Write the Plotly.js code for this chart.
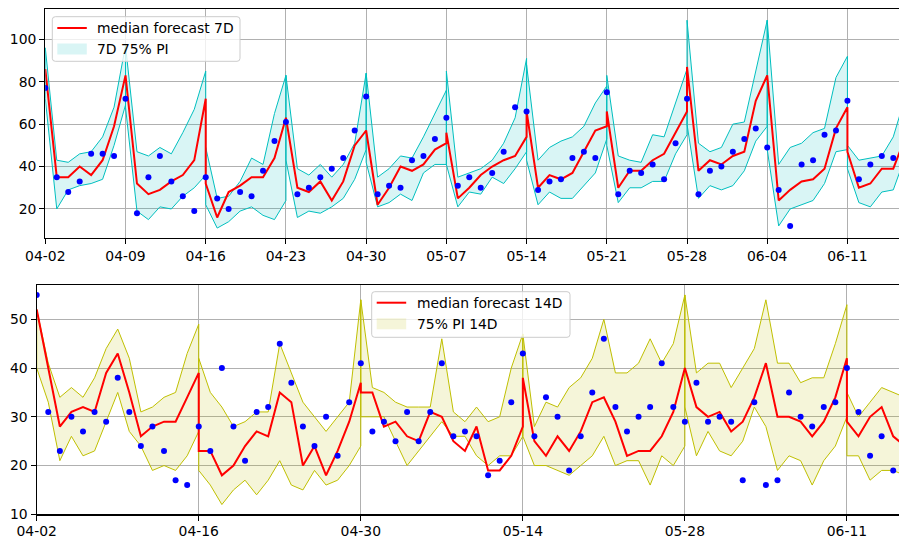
<!DOCTYPE html>
<html>
<head>
<meta charset="utf-8">
<script src="https://cdn.plot.ly/plotly-3.0.1.min.js"></script>
<style>html,body{margin:0;padding:0;background:#fff;}#chart{width:899px;height:538px;}</style>
</head>
<body>
<div id="chart"></div>
<script>
// ---------- data ----------
const startYear = 2021, startMonth = 3, startDay = 2;   // 04-02

// observed values (daily, from 04-02)
const actual7 = [77,35,28,33,46,46,45,72,18,35,45,33,26,19,35,25,20,28,26,38,52,61,27,30,35,39,44,57,73,27,31,30,43,45,53,63,31,35,30,37,47,68,66,29,33,34,44,47,44,75,27,38,37,41,34,51,72,27,38,40,47,53,58,49,29,12,41,43,55,57,71,34,41,45,44];
const actual14 = [55,31,23,30,27,31,29,38,31,24,28,23,17,16,28,23,40,28,21,31,32,45,37,28,24,30,22,33,41,27,29,25,31,25,31,41,26,27,26,18,21,33,43,26,34,30,19,26,35,46,32,27,30,32,41,32,29,37,29,30,29,17,33,16,17,35,30,28,32,33,40,31,22,26,19];

// 7-day forecasts: one segment per week (start day offsets)
const segStart7 = [0,7,14,21,28,35,42,49,56,63,70];
const med7 = [
 [86,35,35,40,36,43,59,83],
 [83,32,27,29,33,36,43,72],
 [32,16,28,31,35,35,44,63],
 [63,30,28,33,24,33,50,57],
 [57,22,30,40,38,41,48,51],
 [56,25,30,36,40,43,45,54],
 [66,30,36,34,37,47,57,59],
 [66,30,38,38,43,46,56,66],
 [87,38,43,41,45,47,71,83],
 [83,24,29,33,34,39,58,68],
 [47,30,32,39,39,53]
];
const lo7 = [
 [72,20,29,31,32,34,50,69],
 [68,19,15,21,20,26,30,36],
 [22,11,14,19,21,17,15,24],
 [43,16,19,18,21,25,34,48],
 [42,21,23,27,24,37,41,41],
 [41,21,28,27,35,32,39,47],
 [43,22,28,25,25,31,37,53],
 [50,23,30,30,33,33,46,55],
 [60,25,31,29,31,38,52,59],
 [48,12,20,22,24,32,47,48],
 [39,23,21,28,29,44]
];
const up7 = [
 [96,43,42,46,47,54,68,97],
 [97,47,45,49,46,56,67,85],
 [49,25,26,33,44,41,65,83],
 [83,39,36,41,35,41,51,84],
 [84,35,39,45,44,54,65,76],
 [85,35,37,39,43,51,63,91],
 [88,43,49,52,54,59,70,78],
 [83,45,43,42,55,54,70,86],
 [109,51,47,49,60,61,85,109],
 [109,41,49,51,56,58,82,92],
 [50,43,44,45,54,72]
];

// 14-day forecasts: one segment per two weeks
const segStart14 = [0,14,28,42,56,70];
const med14 = [
 [52,40,28,31,32,31,39,43,35,26,28,29,29,34,39],
 [23,23,18,20,24,27,26,35,33,20,24,18,23,29,37],
 [35,35,28,29,26,25,31,30,25,23,28,19,19,22,28],
 [38,25,22,26,23,27,33,34,29,22,23,23,26,31,40],
 [40,32,30,31,27,29,34,41,30,30,29,26,29,34,42],
 [29,26,30,32,26,24]
];
const up14 = [
 [52,41,34,36,34,38,44,48,42,31,32,34,35,43,49],
 [42,35,32,28,29,31,31,45,39,33,30,27,30,33,54],
 [54,36,35,33,32,32,32,46,31,29,32,29,30,40,47],
 [47,28,33,32,36,38,42,50,39,39,41,46,41,45,55],
 [55,39,41,41,36,40,44,54,41,41,37,38,38,45,53],
 [35,30,33,36,35,34]
];
const lo14 = [
 [40,33,21,26,22,23,29,35,27,24,19,20,19,22,27],
 [19,16,12,15,17,14,17,21,16,15,19,16,17,20,24],
 [30,30,30,25,20,23,26,29,26,26,22,20,22,22,26],
 [26,20,20,19,18,20,22,26,20,21,21,16,22,20,24],
 [32,22,27,23,22,25,32,28,19,22,21,16,21,24,30],
 [22,22,17,19,19,18]
];

const labels = {
  med7: 'median forecast 7D', pi7: '7D 75% PI',
  med14: 'median forecast 14D', pi14: '75% PI 14D'
};

// ---------- helpers ----------
function dateOf(d) {
  const t = new Date(Date.UTC(startYear, startMonth, startDay) + d * 86400000);
  return t.toISOString().replace('T', ' ').slice(0, 19);
}
function concatLine(starts, segs) {
  const x = [], y = [];
  segs.forEach((s, k) => s.forEach((v, i) => { x.push(dateOf(starts[k] + i)); y.push(v); }));
  return {x, y};
}
function bandPolys(starts, lo, up) {
  const x = [], y = [];
  lo.forEach((s, k) => {
    const n = s.length;
    for (let i = 0; i < n; i++) { x.push(dateOf(starts[k] + i)); y.push(lo[k][i]); }
    for (let i = n - 1; i >= 0; i--) { x.push(dateOf(starts[k] + i)); y.push(up[k][i]); }
    x.push(dateOf(starts[k])); y.push(lo[k][0]);
    x.push(null); y.push(null);
  });
  return {x, y};
}
function obs(vals) {
  return {x: vals.map((_, i) => dateOf(i)), y: vals};
}

// ---------- traces ----------
const cyan = 'rgb(0,191,191)', olive = 'rgb(191,191,0)';
const cyanFill = 'rgba(0,191,191,0.15)', oliveFill = 'rgba(191,191,0,0.15)';
const traces = [];
function addPanel(xa, ya, starts, med, lo, up, act, edge, fill, medName, piName) {
  const band = bandPolys(starts, lo, up);
  traces.push({x: band.x, y: band.y, xaxis: xa, yaxis: ya, mode: 'lines', fill: 'toself',
    fillcolor: fill, line: {width: 0, color: fill}, name: piName,
    hoverinfo: 'skip', connectgaps: false});
  traces.push({x: band.x, y: band.y, xaxis: xa, yaxis: ya, mode: 'lines',
    line: {width: 1, color: edge}, hoverinfo: 'skip', connectgaps: false});
  const m = concatLine(starts, med);
  traces.push({x: m.x, y: m.y, xaxis: xa, yaxis: ya, mode: 'lines',
    line: {width: 2, color: 'rgb(255,0,0)'}, name: medName, hoverinfo: 'skip'});
  const o = obs(act);
  traces.push({x: o.x, y: o.y, xaxis: xa, yaxis: ya, mode: 'markers',
    marker: {size: 6, color: 'rgb(0,0,255)'}, hoverinfo: 'skip'});
}
addPanel('x', 'y', segStart7, med7, lo7, up7, actual7, cyan, cyanFill, labels.med7, labels.pi7);
addPanel('x2', 'y2', segStart14, med14, lo14, up14, actual14, olive, oliveFill, labels.med14, labels.pi14);

// ---------- layout ----------
const W = 899, H = 538;
const fnt = {family: 'DejaVu Sans, Verdana, sans-serif', size: 13.9, color: 'black'};
function xAxis(left, anchor, stepDays, standoff) {
  return {domain: [left / W, 1], anchor: anchor, type: 'date',
    range: [dateOf(0), dateOf(74.5)], tick0: dateOf(0), dtick: stepDays * 86400000,
    tickformat: '%m-%d', ticks: 'outside', ticklen: 5, tickwidth: 1, tickcolor: 'black',
    ticklabelstandoff: standoff,
    showgrid: true, gridcolor: '#b0b0b0', gridwidth: 1, zeroline: false,
    showline: true, linecolor: 'black', linewidth: 1.2, mirror: true, tickfont: fnt};
}
function yAxis(top, bottom, anchor, range, vals) {
  return {domain: [1 - bottom / H, 1 - top / H], anchor: anchor, range: range, tickvals: vals,
    ticks: 'outside', ticklen: 5, tickwidth: 1, tickcolor: 'black',
    showgrid: true, gridcolor: '#b0b0b0', gridwidth: 1, zeroline: false,
    showline: true, linecolor: 'black', linewidth: 1.2, tickfont: fnt};
}

// ---------- hand-drawn legends (matplotlib style), positions in pixels ----------
const px = x => x / W, py = y => 1 - y / H;
function roundRect(x0, y0, x1, y1, r) {
  const p = (x, y) => px(x) + ',' + py(y);
  return 'M' + p(x0 + r, y0) + ' L' + p(x1 - r, y0) + ' Q' + p(x1, y0) + ' ' + p(x1, y0 + r) +
    ' L' + p(x1, y1 - r) + ' Q' + p(x1, y1) + ' ' + p(x1 - r, y1) +
    ' L' + p(x0 + r, y1) + ' Q' + p(x0, y1) + ' ' + p(x0, y1 - r) +
    ' L' + p(x0, y0 + r) + ' Q' + p(x0, y0) + ' ' + p(x0 + r, y0) + ' Z';
}
const shapes = [], annotations = [];
function legendBox(x0, y0, x1, y1, lineY, patchY, textX, fill, t1, t2) {
  shapes.push({type: 'path', xref: 'paper', yref: 'paper', path: roundRect(x0, y0, x1, y1, 3),
    fillcolor: 'rgba(255,255,255,0.8)', line: {color: '#cccccc', width: 1}, layer: 'above'});
  shapes.push({type: 'line', xref: 'paper', yref: 'paper', x0: px(x0 + 5), x1: px(x0 + 34.5),
    y0: py(lineY), y1: py(lineY), line: {color: 'rgb(255,0,0)', width: 2}, layer: 'above'});
  shapes.push({type: 'rect', xref: 'paper', yref: 'paper', x0: px(x0 + 5), x1: px(x0 + 34.5),
    y0: py(patchY - 5.5), y1: py(patchY + 5.5), fillcolor: fill, line: {width: 0}, layer: 'above'});
  annotations.push({xref: 'paper', yref: 'paper', x: px(textX), y: py(lineY), text: t1,
    showarrow: false, xanchor: 'left', yanchor: 'middle', font: fnt});
  annotations.push({xref: 'paper', yref: 'paper', x: px(textX), y: py(patchY), text: t2,
    showarrow: false, xanchor: 'left', yanchor: 'middle', font: fnt});
}
legendBox(52.3, 16.7, 240, 61.3, 28, 49, 94.5, cyanFill, labels.med7, labels.pi7);
legendBox(371.7, 291.7, 570, 337.3, 302.7, 323.8, 414.5, oliveFill, labels.med14, labels.pi14);

const layout = {
  width: W, height: H, margin: {l: 0, r: 0, t: 0, b: 0},
  paper_bgcolor: 'white', plot_bgcolor: 'white', font: fnt, showlegend: false, hovermode: false,
  xaxis: xAxis(45.3, 'y', 7, 0),
  yaxis: yAxis(9.3, 237.7, 'x', [6.46, 114.15], [20, 40, 60, 80, 100]),
  xaxis2: xAxis(36.7, 'y2', 14, -1),
  yaxis2: yAxis(284.7, 514.3, 'x2', [10, 57.1], [10, 20, 30, 40, 50]),
  shapes: shapes, annotations: annotations
};

Plotly.newPlot('chart', traces, layout, {staticPlot: true, displayModeBar: false});
</script>
</body>
</html>
